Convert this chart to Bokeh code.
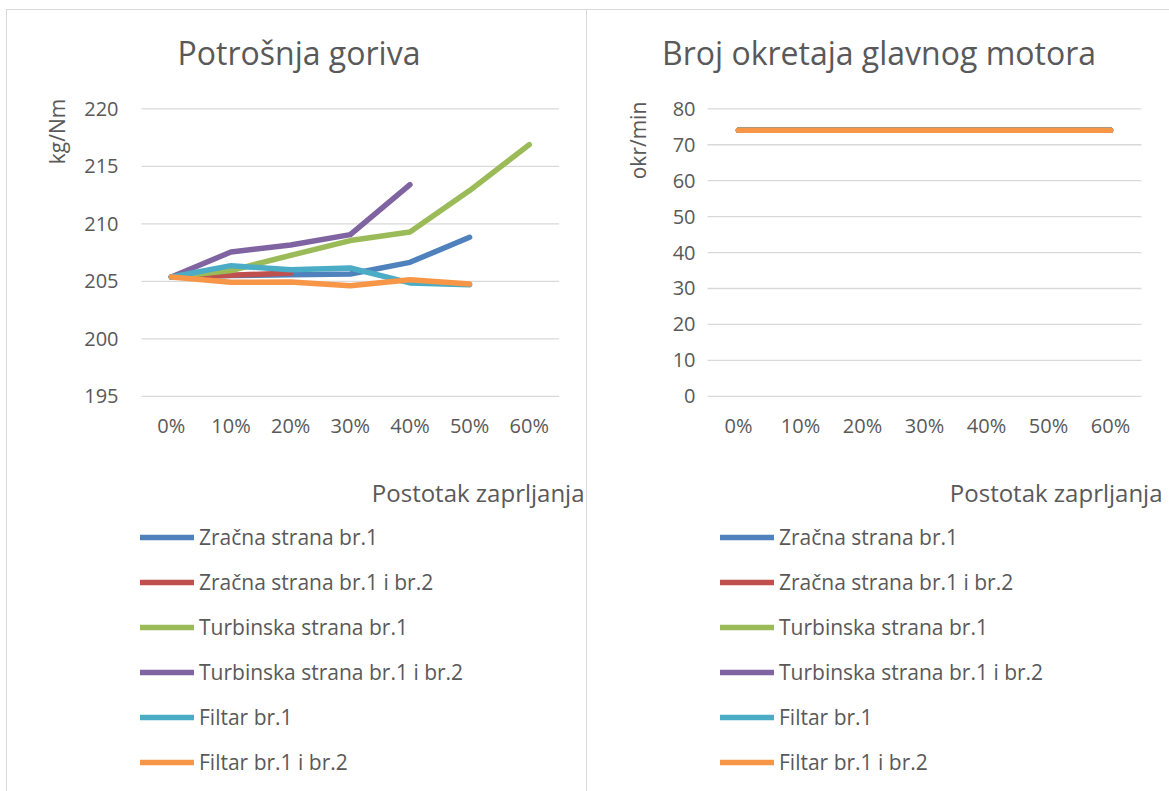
import math
from bokeh.plotting import figure
from bokeh.models import Label, Legend, LegendItem, Range1d
from bokeh.core.properties import value
from bokeh.layouts import row
from bokeh.embed import file_html
from bokeh.resources import INLINE

# ---------------- data ----------------
categories = ["0%", "10%", "20%", "30%", "40%", "50%", "60%"]
series_names = [
    "Zračna strana br.1",
    "Zračna strana br.1 i br.2",
    "Turbinska strana br.1",
    "Turbinska strana br.1 i br.2",
    "Filtar br.1",
    "Filtar br.1 i br.2",
]
colors = ["#4F81BD", "#C0504D", "#9BBB59", "#8064A2", "#4BACC6", "#F79646"]

# Potrošnja goriva (kg/Nm)
fuel_zracna_1 = [205.37, 205.50, 205.58, 205.64, 206.65, 208.83]
fuel_zracna_12 = [205.37, 205.52, 205.73]
fuel_turbinska_1 = [205.37, 205.93, 207.26, 208.54, 209.29, 212.89, 216.89]
fuel_turbinska_12 = [205.37, 207.55, 208.15, 209.06, 213.40]
fuel_filtar_1 = [205.37, 206.36, 206.00, 206.16, 204.86, 204.70]
fuel_filtar_12 = [205.37, 204.91, 204.94, 204.62, 205.14, 204.77]
fuel_series = [fuel_zracna_1, fuel_zracna_12, fuel_turbinska_1,
               fuel_turbinska_12, fuel_filtar_1, fuel_filtar_12]

# Broj okretaja glavnog motora (okr/min)
rpm_zracna_1 = [74, 74, 74, 74, 74, 74, 74]
rpm_zracna_12 = [74, 74, 74, 74, 74, 74, 74]
rpm_turbinska_1 = [74, 74, 74, 74, 74, 74, 74]
rpm_turbinska_12 = [74, 74, 74, 74, 74, 74, 74]
rpm_filtar_1 = [74, 74, 74, 74, 74, 74, 74]
rpm_filtar_12 = [74, 74, 74, 74, 74, 74, 74]
rpm_series = [rpm_zracna_1, rpm_zracna_12, rpm_turbinska_1,
              rpm_turbinska_12, rpm_filtar_1, rpm_filtar_12]

fuel_ticks = [195, 200, 205, 210, 215, 220]
rpm_ticks = [0, 10, 20, 30, 40, 50, 60, 70, 80]

# ---------------- style / layout (page pixels) ----------------
FONT = "Open Sans"
TXT = "#595959"
GRID = "#D9D9D9"
TOP = 9            # top of both chart boxes
BOTTOM = 791       # bottom of the page
GRID_TOP = 107.3   # page y of highest gridline
GRID_BOT = 394.8   # page y of lowest gridline


def make_chart(box_left, box_right, plot_left, plot_right, yticks, values,
               title, title_cx, ylab, ylab_pos, xtitle_right, legend_left,
               label_gap, border_css):
    width = box_right - box_left
    height = BOTTOM - TOP
    n = len(categories)
    ux = (plot_right - plot_left) / n
    ymin, ymax = yticks[0], yticks[-1]
    uy = (GRID_BOT - GRID_TOP) / (ymax - ymin)
    x_range = Range1d(-0.5 - (plot_left - box_left) / ux,
                      -0.5 + (box_right - plot_left) / ux)
    y_range = Range1d(ymin - (BOTTOM - GRID_BOT) / uy,
                      ymax + (GRID_TOP - TOP) / uy)

    p = figure(width=width, height=height, output_backend="svg",
               toolbar_location=None, title=None, x_range=x_range,
               y_range=y_range, x_axis_type=None, y_axis_type=None,
               min_border=0)
    p.styles = border_css
    p.outline_line_color = None
    p.background_fill_color = "white"
    p.border_fill_color = "white"
    p.xgrid.visible = False
    p.ygrid.visible = False

    def sx(px):
        return px - box_left

    def sy(py):
        return BOTTOM - py

    # gridlines
    p.segment(x0=[-0.5] * len(yticks), x1=[n - 0.5] * len(yticks),
              y0=yticks, y1=yticks, line_color=GRID, line_width=1.3)
    # y tick labels
    p.text(x=[-0.5] * len(yticks), y=yticks, text=[str(t) for t in yticks],
           x_offset=-label_gap, text_align="right", text_baseline="middle",
           text_font=value(FONT), text_font_size="20px", text_color=TXT)
    # x tick labels
    p.text(x=list(range(n)), y=[ymin] * n, text=categories,
           y_offset=424 - GRID_BOT, text_align="center",
           text_baseline="middle", text_font=value(FONT),
           text_font_size="20px", text_color=TXT)

    items = []
    for name, col, vals in zip(series_names, colors, values):
        xs = list(range(len(vals)))
        r = p.line(xs, vals, line_color=col, line_width=5.5,
                   line_cap="round", line_join="round")
        items.append(LegendItem(label=name, renderers=[r]))

    legend = Legend(items=items, location=(sx(legend_left), sy(775.7)),
                    orientation="vertical", border_line_color=None,
                    background_fill_alpha=0, padding=0, margin=0,
                    glyph_width=54, glyph_height=30, label_height=30,
                    spacing=15, label_standoff=5,
                    label_text_font=FONT, label_text_font_size="21px",
                    label_text_color=TXT)
    p.add_layout(legend, "center")

    p.add_layout(Label(x=sx(title_cx), y=sy(51), x_units="screen",
                       y_units="screen", text=title, text_font=FONT,
                       text_font_size="32px", text_color=TXT,
                       text_align="center", text_baseline="alphabetic"))
    p.add_layout(Label(x=sx(ylab_pos[0]), y=sy(ylab_pos[1]), x_units="screen",
                       y_units="screen", text=ylab, angle=math.pi / 2,
                       text_font=FONT, text_font_size="21px", text_color=TXT,
                       text_align="center", text_baseline="middle"))
    p.add_layout(Label(x=sx(xtitle_right), y=sy(491), x_units="screen",
                       y_units="screen", text="Postotak zaprljanja",
                       text_font=FONT, text_font_size="24px", text_color=TXT,
                       text_align="right", text_baseline="alphabetic"))
    return p


border = "1.5px solid #D9D9D9"
left = make_chart(6, 587, 140, 557.6, fuel_ticks, fuel_series,
                  "Potrošnja goriva", 297.5, "kg/Nm", (55, 130), 583, 139, 23,
                  {"border-top": border, "border-left": border,
                   "border-right": border, "box-sizing": "border-box"})
right = make_chart(587, 1169, 707, 1141, rpm_ticks, rpm_series,
                   "Broj okretaja glavnog motora", 878.5, "okr/min",
                   (637, 139), 1162, 720, 12,
                   {"border-top": border, "box-sizing": "border-box"})

layout = row(left, right, spacing=0, margin=(TOP, 0, 0, 6))
open("out.html", "w").write(file_html(layout, INLINE))
